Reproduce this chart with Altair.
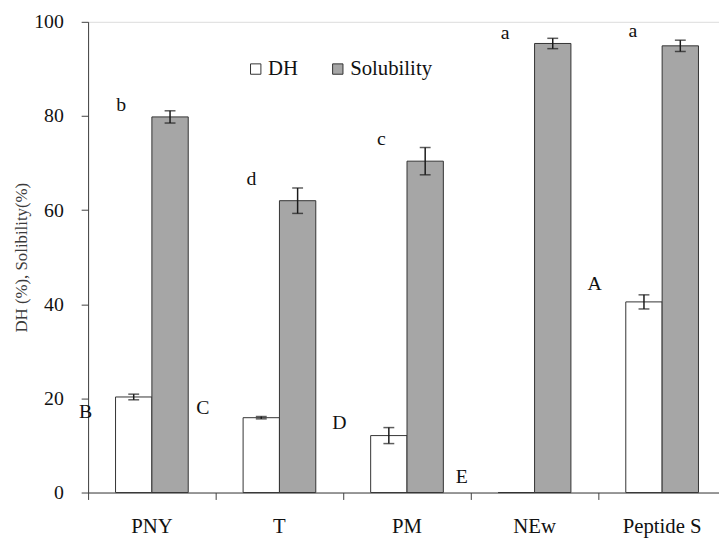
import altair as alt
import pandas as pd

categories = ["PNY", "T", "PM", "NEw", "Peptide S"]
dh = [20.3, 15.9, 12.1, 0.0, 40.5]
dh_err = [0.6, 0.25, 1.7, 0.0, 1.5]
sol = [79.8, 62.0, 70.4, 95.4, 94.9]
sol_err = [1.3, 2.7, 2.9, 1.1, 1.2]

# significance letters: position in category units (0 = left edge of first group) and y value
lower_letters = ["b", "d", "c", "a", "a"]
lower_pos = [0.26, 1.28, 2.30, 3.27, 4.27]
lower_y = [82.4, 66.6, 75.0, 97.7, 98.1]
upper_letters = ["B", "C", "D", "E", "A"]
upper_pos = [-0.02, 0.90, 1.97, 2.93, 3.97]
upper_y = [17.2, 17.9, 14.7, 3.2, 44.3]

series = ["DH", "Solubility"]

rows = []
for i, c in enumerate(categories):
    rows.append({"cat": c, "series": "DH", "val": dh[i], "lo": dh[i] - dh_err[i], "hi": dh[i] + dh_err[i], "err": dh_err[i]})
    rows.append({"cat": c, "series": "Solubility", "val": sol[i], "lo": sol[i] - sol_err[i], "hi": sol[i] + sol_err[i], "err": sol_err[i]})
df = pd.DataFrame(rows)
err_df = df[df["err"] > 0]

letters = pd.DataFrame({
    "txt": lower_letters + upper_letters,
    "pos": lower_pos + upper_pos,
    "y": lower_y + upper_y,
})

FONT = "Liberation Serif"
W, H = 645, 476

xscale = alt.Scale(domain=categories, paddingInner=0, paddingOuter=0)
yscale = alt.Scale(domain=[0, 100])
xoff = alt.XOffset("series:N", scale=alt.Scale(domain=series, paddingInner=0, paddingOuter=0.755))

x_enc = alt.X(
    "cat:N", scale=xscale, sort=categories, title=None,
    axis=alt.Axis(bandPosition=0, labelAngle=0, tickSize=7,
                  labelPadding=16, labelFont=FONT, labelFontSize=21, labelColor="#111",
                  domainColor="#404040", tickColor="#404040", grid=False),
)
y_enc = alt.Y(
    "val:Q", scale=yscale,
    title="DH (%), Solibility(%)",
    axis=alt.Axis(values=[0, 20, 40, 60, 80, 100], tickSize=7, labelPadding=18,
                  labelFont=FONT, labelFontSize=20, labelColor="#111",
                  titleFont=FONT, titleFontSize=17, titleFontWeight="normal",
                  titleColor="#3a3a3a", titlePadding=3,
                  domainColor="#404040", tickColor="#404040", grid=False),
)

bars = alt.Chart(df).mark_bar(stroke="#333333", strokeWidth=1).encode(
    x=x_enc,
    xOffset=xoff,
    y=y_enc,
    color=alt.Color(
        "series:N",
        scale=alt.Scale(domain=series, range=["#ffffff", "#a6a6a6"]),
        legend=alt.Legend(title=None, orient="none", legendX=159, legendY=37,
                          direction="horizontal", symbolType="square", symbolSize=110,
                          symbolStrokeColor="#333333", symbolStrokeWidth=1,
                          labelFont=FONT, labelFontSize=21, labelColor="#111",
                          columnPadding=29, labelOffset=2),
    ),
)

rules = alt.Chart(err_df).mark_rule(color="#1a1a1a", strokeWidth=1.5).encode(
    x=alt.X("cat:N", scale=xscale, sort=categories),
    xOffset=xoff,
    y=alt.Y("lo:Q", scale=yscale),
    y2="hi:Q",
)
cap_lo = alt.Chart(err_df).mark_tick(color="#1a1a1a", thickness=1.5, size=11).encode(
    x=alt.X("cat:N", scale=xscale, sort=categories),
    xOffset=xoff,
    y=alt.Y("lo:Q", scale=yscale),
)
cap_hi = alt.Chart(err_df).mark_tick(color="#1a1a1a", thickness=1.5, size=11).encode(
    x=alt.X("cat:N", scale=xscale, sort=categories),
    xOffset=xoff,
    y=alt.Y("hi:Q", scale=yscale),
)

text = alt.Chart(letters).mark_text(font=FONT, fontSize=20, color="#111", align="center", baseline="middle").encode(
    x=alt.X("pos:Q", scale=alt.Scale(domain=[0, 5], nice=False, zero=False), axis=None),
    y=alt.Y("y:Q", scale=yscale),
    text="txt:N",
)

main = alt.layer(bars, rules, cap_lo, cap_hi)
chart = alt.layer(main, text).resolve_scale(x="independent").properties(
    width=W, height=H,
    autosize=alt.AutoSizeParams(type="none"),
    padding={"left": 81, "top": 11, "right": -7, "bottom": 44},
).configure_view(stroke=None).configure(background="white")

chart.save("out.html", embed_options={"renderer": "svg", "actions": False})
